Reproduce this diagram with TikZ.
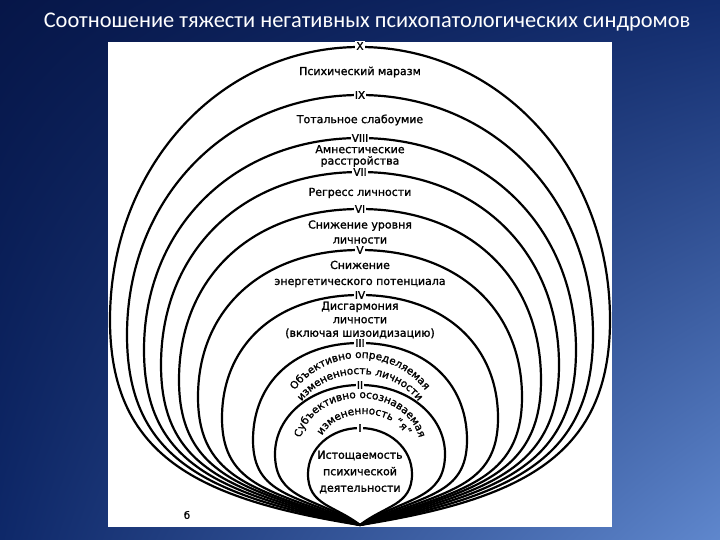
\documentclass[tikz,border=0pt]{standalone}
\usepackage{fontspec}
\setmainfont{DejaVu Sans}
\newfontfamily\titlefont{Carlito}
\newfontfamily\diafont[FakeBold=1.4]{DejaVu Sans}
\usetikzlibrary{decorations.text,shadings}
\definecolor{bgTL}{RGB}{6,22,72}
\definecolor{bgTR}{RGB}{18,44,110}
\definecolor{bgBL}{RGB}{14,40,105}
\definecolor{bgBR}{RGB}{95,135,205}
\newcommand\curvefont{\diafont\fontsize{10.5}{12}\selectfont}
% #1 top y, #2 half width, #3 y of widest point, #4 bottom angle, #5 top roundness, #6 bottom roundness
\newcommand\drawOval[6]{%
  \pgfmathsetmacro\ovT{#5*(#3-#1)}%
  \pgfmathsetmacro\ovTw{#5*#2}%
  \pgfmathsetmacro\ovCa{#6*(525-#3)}%
  \pgfmathsetmacro\ovPx{#6*#2*cos(#4)}%
  \pgfmathsetmacro\ovPy{#6*#2*sin(#4)}%
  \draw[ovalline] (360,525)
    .. controls (360-\ovPx,525-\ovPy) and (360-#2,#3+\ovCa) .. (360-#2,#3)
    .. controls (360-#2,#3-\ovT) and (360-\ovTw,#1) .. (360,#1)
    .. controls (360+\ovTw,#1) and (360+#2,#3-\ovT) .. (360+#2,#3)
    .. controls (360+#2,#3+\ovCa) and (360+\ovPx,525-\ovPy) .. (360,525);
}
\begin{document}
\begin{tikzpicture}[x=1pt,y=-1pt,
  ovalline/.style={line width=2.2pt,black,line join=round},
  numlab/.style={fill=white,inner sep=1pt,font=\diafont\fontsize{10.5}{11}\selectfont},
  txt/.style={align=center,inner sep=0pt,font=\diafont\fontsize{11}{12}\selectfont},
  curvetext/.style={decorate,decoration={text along path,text align=center}}]
\useasboundingbox (0,0) rectangle (720,540);
\shade[upper left=bgTL,upper right=bgTR,lower left=bgBL,lower right=bgBR] (0,0) rectangle (720,540);
\node[text=white,font=\titlefont\fontsize{22.4}{26}\selectfont] (title) at (367,22) {Соотношение тяжести негативных психопатологических синдромов};
\fill[white] (108,42) rectangle (612,527);
% nested ovals
\drawOval{47}{250}{320}{9}{0.56}{0.66}
\drawOval{95}{233}{335}{11}{0.57}{0.66}
\drawOval{138}{216}{350}{13}{0.58}{0.66}
\drawOval{172}{199}{365}{15}{0.59}{0.66}
\drawOval{209}{181}{380}{17}{0.6}{0.66}
\drawOval{250}{162}{397}{19}{0.6}{0.66}
\drawOval{295}{138}{418}{22}{0.6}{0.66}
\drawOval{343}{107}{440}{26}{0.6}{0.66}
\drawOval{385}{85}{454}{31}{0.56}{0.64}
\drawOval{428}{52}{474}{38}{0.56}{0.62}
% labels
\node[numlab] (nX) at (360,46) {X};
\node[txt] (t10) at (360,72) {Психический маразм};
\node[numlab] (nIX) at (360,95) {IX};
\node[txt] (t9) at (360,120) {Тотальное слабоумие};
\node[numlab] (nVIII) at (360,138) {VIII};
\node[txt,font=\diafont\fontsize{11}{11.5}\selectfont] (t8) at (360,156) {Амнестические\\расстройства};
\node[numlab] (nVII) at (360,172) {VII};
\node[txt] (t7) at (360,193) {Регресс личности};
\node[numlab] (nVI) at (360,209) {VI};
\node[txt,font=\diafont\fontsize{11}{15}\selectfont] (t6) at (360,232) {Снижение уровня\\личности};
\node[numlab] (nV) at (360,250) {V};
\node[txt,font=\diafont\fontsize{11}{16}\selectfont] (t5) at (360,274) {Снижение\\энергетического потенциала};
\node[numlab] (nIV) at (360,295) {IV};
\node[txt,font=\diafont\fontsize{11}{13.5}\selectfont] (t4) at (360,320) {Дисгармония\\личности\\(включая шизоидизацию)};
\node[numlab] (nIII) at (360,343) {III};
\node[numlab] (nII) at (360,385) {II};
\node[numlab] (nI) at (360,428) {I};
\node[txt,font=\diafont\fontsize{11}{16.5}\selectfont] (t1) at (360,472) {Истощаемость\\психической\\деятельности};
\node[txt,font=\diafont\fontsize{10}{12}\selectfont] (fig) at (187,515) {б};
% curved texts
\path[curvetext,decoration={text={|\curvefont|Объективно определяемая}}]
  (360,440) ++(180:82 and 82) arc[start angle=180,end angle=360,x radius=82,y radius=82];
\path[curvetext,decoration={text={|\curvefont|измененность личности}}]
  (360,440) ++(180:72 and 66) arc[start angle=180,end angle=360,x radius=72,y radius=66];
\path[curvetext,decoration={text={|\curvefont|Субъективно осознаваемая}}]
  (360,447) ++(180:60 and 49) arc[start angle=180,end angle=360,x radius=60,y radius=49];
\path[curvetext,decoration={text={|\curvefont|измененность “я”}}]
  (364,448) ++(180:45 and 34) arc[start angle=180,end angle=360,x radius=45,y radius=34];
\end{tikzpicture}
\end{document}
